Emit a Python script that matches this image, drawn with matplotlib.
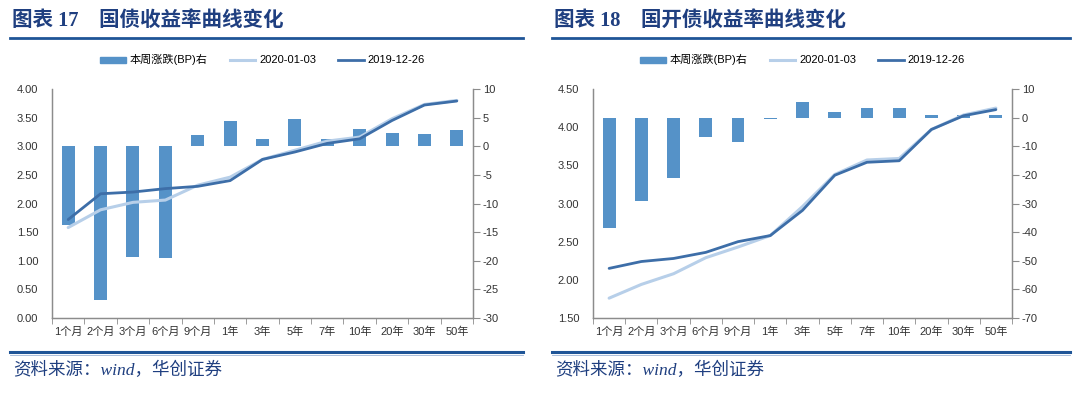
import matplotlib
matplotlib.use("Agg")
import matplotlib.pyplot as plt
from matplotlib.lines import Line2D
from matplotlib.patches import Patch
import numpy as np

plt.rcParams['font.family'] = ['Liberation Sans', 'Noto Sans CJK SC']
plt.rcParams['axes.unicode_minus'] = False

# 期限
tenors = ['1个月', '2个月', '3个月', '6个月', '9个月', '1年', '3年', '5年',
          '7年', '10年', '20年', '30年', '50年']

# 图表17 国债
gz_chg = [-13.7, -26.9, -19.3, -19.5, 2.0, 4.4, 1.3, 4.8, 1.3, 3.0, 2.4, 2.2, 2.8]
gz_now = [1.58, 1.89, 2.02, 2.06, 2.32, 2.46, 2.77, 2.93, 3.09, 3.16, 3.48, 3.73, 3.80]
gz_prev = [1.72, 2.17, 2.20, 2.26, 2.30, 2.40, 2.77, 2.90, 3.05, 3.13, 3.45, 3.72, 3.79]

# 图表18 国开债
gk_chg = [-38.7, -29.1, -21.1, -6.8, -8.4, -0.5, 5.5, 1.9, 3.5, 3.5, 1.0, 1.0, 1.0]
gk_now = [1.76, 1.94, 2.08, 2.29, 2.43, 2.58, 2.96, 3.38, 3.57, 3.59, 3.97, 4.16, 4.25]
gk_prev = [2.15, 2.24, 2.28, 2.36, 2.50, 2.58, 2.91, 3.37, 3.54, 3.56, 3.97, 4.15, 4.23]

W, H = 1075, 395
BAR = '#5592c8'
LIGHT = '#b7cfe9'
DARK = '#3d6ea8'
NAVY = '#1f3f80'
RULE = '#1f5597'
AXC = '#8c8c8c'

fig = plt.figure(figsize=(W / 100, H / 100), dpi=100)


def fx(px):
    return px / W


def fy(py):
    return 1 - py / H


def panel(x0, x1, chg, now, prev, ylim, y2lim, y2step, title, lx0, lx1):
    ax = fig.add_axes([fx(x0), fy(318), fx(x1 - x0), (318 - 89) / H])
    ax2 = ax.twinx()
    x = np.arange(len(tenors))

    ax2.bar(x, chg, width=0.4, color=BAR, zorder=1)
    ax.plot(x, now, color=LIGHT, lw=2.2, solid_capstyle='round')
    ax.plot(x, prev, color=DARK, lw=2.0, solid_capstyle='round')

    ax.set_zorder(ax2.get_zorder() + 1)
    ax.patch.set_visible(False)

    ax.set_xlim(-0.5, len(tenors) - 0.5)
    ax.set_ylim(*ylim)
    yt = np.arange(ylim[0], ylim[1] + 0.01, 0.5)
    ax.set_yticks(yt)
    ax.set_yticklabels([f'{v:.2f}' for v in yt])
    ax2.set_ylim(*y2lim)
    ax2.set_yticks(np.arange(y2lim[0], y2lim[1] + 0.1, y2step))

    ax.set_xticks(x)
    ax.set_xticklabels(tenors)
    ax.set_xticks(np.arange(-0.5, len(tenors)), minor=True)
    ax.tick_params(axis='x', which='major', length=0, pad=6, labelsize=8, colors='#333333')
    ax.tick_params(axis='x', which='minor', length=4, color=AXC)
    ax.tick_params(axis='y', length=0, pad=10, labelsize=8, colors='#333333')
    ax2.tick_params(axis='y', length=5, pad=2, labelsize=8, colors='#333333', color=AXC)

    for a in (ax, ax2):
        a.spines['top'].set_visible(False)
        for s in ('left', 'right', 'bottom'):
            a.spines[s].set_color(AXC)
            a.spines[s].set_linewidth(0.9)

    handles = [Patch(color=BAR, label='本周涨跌(BP)右'),
               Line2D([], [], color=LIGHT, lw=2.2, label='2020-01-03'),
               Line2D([], [], color=DARK, lw=2.0, label='2019-12-26')]
    ax.legend(handles=handles, ncol=3, loc='center', bbox_to_anchor=(0.5, 1.127),
              frameon=False, fontsize=8, handlelength=2.3, handleheight=0.45,
              columnspacing=2.0, handletextpad=0.35)

    fig.text(fx(lx0 + 2), fy(21), title, fontsize=14.8, fontweight='bold', color=NAVY,
             va='center', ha='left', family=['Liberation Serif', 'Noto Sans CJK SC'])
    fig.add_artist(Line2D([fx(lx0), fx(lx1)], [fy(38), fy(38)], color=RULE, lw=2.0))
    fig.add_artist(Line2D([fx(lx0), fx(lx1)], [fy(352), fy(352)], color=RULE, lw=2.2))
    fig.add_artist(Line2D([fx(lx0), fx(lx1)], [fy(354.8), fy(354.8)], color='#9db4d6', lw=0.6))
    fig.text(fx(lx0 + 3), fy(370), '资料来源：wind，华创证券', fontsize=12.6, style='italic',
             color=NAVY, va='center', ha='left',
             family=['Liberation Serif', 'Noto Sans CJK SC'])


panel(52, 473, gz_chg, gz_now, gz_prev, (0, 4.0), (-30, 10), 5,
      '图表 17    国债收益率曲线变化', 10, 523)
panel(593, 1012, gk_chg, gk_now, gk_prev, (1.5, 4.5), (-70, 10), 10,
      '图表 18    国开债收益率曲线变化', 552, 1070)

fig.savefig('out.png', dpi=100)
